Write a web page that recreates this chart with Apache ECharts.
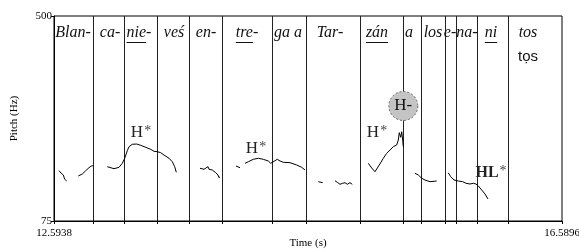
<!DOCTYPE html>
<html>
<head>
<meta charset="utf-8">
<script src="https://cdn.jsdelivr.net/npm/echarts@6/dist/echarts.min.js"></script>
<style>
html, body { margin: 0; padding: 0; background: #fff; }
#chart { width: 579px; height: 251px; }
</style>
</head>
<body>
<div id="chart"></div>
<script>
const tMin = 12.5938, tMax = 16.5896
const fMin = 75, fMax = 500

// syllable boundaries (s)
const boundaries = [12.9006, 13.1444, 13.4040, 13.6557, 13.9152, 14.3085, 14.5760,
	15.0007, 15.3389, 15.4805, 15.6693, 15.7558, 15.9210, 16.1649]

// syllable tier
const syllables = ['Blan-', 'ca-', 'nie-', 'veś', 'en-', 'tre-', 'ga a', 'Tar-', 'zán', 'a', 'los', 'e-', 'na-', 'ni', 'tos']
const syllableT = [12.7432, 13.0343, 13.2624, 13.5377, 13.7894, 14.1119, 14.4344, 14.7647,
	15.1344, 15.3861, 15.5749, 15.7086, 15.8423, 16.0311, 16.3221]
const stressedPart = ['', '', 'nie', '', '', 'tre', '', '', 'zán', '', '', '', '', 'ni', '']
const phoneticText = ['tọs']
const phoneticT = [16.3221]

// pitch track (null = unvoiced gap)
const pitchT = [
	12.6331, 12.6489, 12.6670, 12.6780, 12.6858, 12.6937, null,
	12.7849, 12.8164, 12.8431, 12.8691, 12.8872, 12.9006, null,
	13.0130, 13.0264, 13.0657, 13.1051, 13.1310, 13.1499, 13.1704, 13.1837, 13.2097, 13.2443, 13.2758,
	13.3151, 13.3544, 13.3804, 13.3937, 13.4063, 13.4331, 13.4590, 13.4984, 13.5243, 13.5432, 13.5558, null,
	13.7422, 13.7737, 13.7870, 13.8051, 13.8130, 13.8389, 13.8657, 13.8838, 13.8916, 13.8995, null,
	14.0254, 14.0568, null,
	14.0962, 14.1221, 14.1614, 14.2008, 14.2401, 14.2794, 14.2983, 14.3140, 14.3321, 14.3502, 14.3715,
	14.3974, 14.4501, 14.5028, 14.5421, 14.5681, null,
	14.6727, 14.7073, null,
	14.8041, 14.8222, 14.8434, 14.8646, 14.8827, 14.9008, 14.9221, 14.9401, null,
	15.0660, 15.0927, 15.1187, 15.1423, 15.1620, 15.1840, 15.2107, 15.2367, 15.2626, 15.2894, 15.3020,
	15.3098, 15.3208, 15.3287, 15.3366, 15.3413, null,
	15.4333, 15.4593, 15.4860, 15.5120, 15.5513, 15.6040, null,
	15.6953, 15.7141, 15.7401, 15.7739, 15.8085, 15.8187, 15.8345, 15.8659, 15.8919, 15.9131, 15.9312,
	15.9580, 15.9839, 16.0075
]
const pitchHz = [
	179.3, 174.5, 170.4, 161.5, 162.1, 157.9, null,
	168.3, 172.4, 179.3, 185.5, 189.0, 189.6, null,
	187.6, 184.3, 183.4, 186.3, 194.6, 205.0, 220.7, 229.0, 234.0, 234.6, 231.9,
	227.8, 223.6, 219.5, 215.4, 218.7, 216.6, 211.8, 205.0, 197.9, 187.6, 176.0, null,
	184.3, 182.2, 184.3, 187.6, 182.2, 180.7, 175.1, 170.4, 164.8, 166.8, null,
	189.0, 185.5, null,
	194.6, 197.9, 202.9, 205.0, 202.9, 199.4, 194.6, 197.9, 200.0, 202.9, 199.4,
	196.7, 195.9, 191.1, 186.3, 180.7, null,
	156.5, 154.4, null,
	158.5, 155.2, 151.1, 153.2, 154.4, 151.1, 154.4, 151.1, null,
	194.6, 184.9, 177.2, 187.0, 195.2, 205.0, 215.4, 222.2, 229.0, 232.6, 242.9,
	258.1, 248.5, 260.1, 242.9, 229.0, null,
	173.9, 170.4, 163.5, 160.0, 156.5, 157.9, null,
	175.1, 166.8, 160.0, 157.9, 156.5, 160.0, 153.2, 151.7, 153.2, 151.7, 147.6,
	139.3, 131.0, 120.6
]

// tonal labels
const accents = ['H*', 'H*', 'H*', 'H-', 'HL*']
const accentT = [13.2702, 14.1748, 15.1266, 15.3413, 16.0232]
const accentHz = [257.4, 224.3, 257.4, 313.4, 174.5]

const SERIF = '"Liberation Serif", "Times New Roman", serif'
const syllFont = 'italic 16px ' + SERIF

// 量文字宽度
const measureCtx = document.createElement('canvas').getContext('2d')
function textWidth(str, font) {
	measureCtx.font = font
	return measureCtx.measureText(str).width
}

// split pitch track into voiced stretches
const segments = []
let cur = []
pitchT.forEach((t, i) => {
	if (t === null) {
		if (cur.length) segments.push(cur)
		cur = []
	} else {
		cur.push([t, pitchHz[i]])
	}
})
if (cur.length) segments.push(cur)

const myChart = echarts.init(document.getElementById('chart'))

const pitchSeries = segments.map(d => ({
	type: 'line',
	data: d,
	symbol: 'none',
	showSymbol: false,
	silent: true,
	z: 3,
	lineStyle: { color: '#000', width: 1 }
}))

let option = {
	animation: false,
	grid: {
		left: 54,
		top: 16,
		width: 508,
		height: 205,
		outerBoundsMode: 'none', // 不要自动缩 grid
		containLabel: false,
		show: true,
		borderColor: '#000',
		borderWidth: 1
	},
	xAxis: {
		type: 'value',
		min: tMin,
		max: tMax,
		name: 'Time (s)',
		nameLocation: 'middle',
		nameGap: 17,
		nameMoveOverlap: false,
		nameTextStyle: { fontFamily: SERIF, fontSize: 11, color: '#000' },
		axisLine: { show: true, lineStyle: { color: '#000', width: 1 } },
		axisTick: {
			show: true,
			length: 3,
			customValues: [tMin].concat(boundaries, [tMax]),
			lineStyle: { color: '#000' }
		},
		axisLabel: {
			customValues: [tMin, tMax],
			formatter: v => v.toFixed(4),
			margin: 7,
			fontFamily: SERIF,
			fontSize: 11,
			color: '#000'
		},
		splitLine: { show: false }
	},
	yAxis: {
		type: 'value',
		min: fMin,
		max: fMax,
		name: 'Pitch (Hz)',
		nameLocation: 'middle',
		nameGap: 34,
		nameRotate: 90,
		nameMoveOverlap: false,
		nameTextStyle: { fontFamily: SERIF, fontSize: 11, color: '#000' },
		axisLine: { show: true, lineStyle: { color: '#000', width: 1 } },
		axisTick: {
			show: true,
			length: 3,
			customValues: [fMin, fMax],
			lineStyle: { color: '#000' }
		},
		axisLabel: {
			customValues: [fMin, fMax],
			margin: 2,
			verticalAlign: 'middle',
			fontFamily: SERIF,
			fontSize: 11,
			color: '#000'
		},
		splitLine: { show: false }
	},
	series: [
		// 音节边界
		{
			type: 'custom',
			silent: true,
			z: 2,
			data: boundaries.map(t => [t, fMin]),
			renderItem(params, api) {
				const top = api.coord([api.value(0), fMax])
				const bot = api.coord([api.value(0), fMin])
				const x = Math.round(top[0]) + 0.5
				return {
					type: 'line',
					shape: { x1: x, y1: top[1], x2: x, y2: bot[1] },
					style: { stroke: '#222', lineWidth: 1 }
				}
			}
		},
		// syllable text + underline for stressed part
		{
			type: 'custom',
			silent: true,
			clip: false,
			z: 4,
			data: syllableT.map(t => [t, fMax]),
			renderItem(params, api) {
				const i = params.dataIndex
				const p = api.coord([api.value(0), fMax])
				const x = p[0]
				const y = p[1] + 17
				const children = [{
					type: 'text',
					style: {
						x: x, y: y,
						text: syllables[i],
						font: syllFont,
						fill: '#111',
						textAlign: 'center',
						textVerticalAlign: 'middle'
					}
				}]
				if (stressedPart[i]) {
					const full = textWidth(syllables[i], syllFont)
					const part = textWidth(stressedPart[i], syllFont)
					const x0 = x - full / 2
					const uy = Math.round(y + 9) + 0.5
					children.push({
						type: 'line',
						shape: { x1: x0, y1: uy, x2: x0 + part, y2: uy },
						style: { stroke: '#111', lineWidth: 1 }
					})
				}
				return { type: 'group', children: children }
			}
		},
		// phonetic line under last syllable
		{
			type: 'custom',
			silent: true,
			clip: false,
			z: 4,
			data: phoneticT.map(t => [t, fMax]),
			renderItem(params, api) {
				const p = api.coord([api.value(0), fMax])
				return {
					type: 'text',
					style: {
						x: p[0], y: p[1] + 41,
						text: phoneticText[params.dataIndex],
						font: '15px "Liberation Sans", Arial, sans-serif',
						fill: '#111',
						textAlign: 'center',
						textVerticalAlign: 'middle'
					}
				}
			}
		},
		// tonal labels
		{
			type: 'custom',
			silent: true,
			clip: false,
			z: 5,
			data: accentT.map((t, i) => [t, accentHz[i]]),
			renderItem(params, api) {
				const i = params.dataIndex
				const p = api.coord([api.value(0), api.value(1)])
				const lab = accents[i]
				if (lab === 'H-') {
					return {
						type: 'group',
						children: [{
							type: 'circle',
							shape: { cx: p[0], cy: p[1], r: 14.5 },
							style: { fill: '#c4c4c4', stroke: '#666', lineWidth: 1, lineDash: [2, 2] }
						}, {
							type: 'text',
							style: {
								x: p[0], y: p[1],
								text: lab,
								font: '17px ' + SERIF,
								fill: '#111',
								textAlign: 'center',
								textVerticalAlign: 'middle'
							}
						}]
					}
				}
				const bold = lab === 'HL*'
				const main = lab.replace('*', '')
				const mainFont = (bold ? 'bold 16px ' : '17px ') + SERIF
				const w = textWidth(main, mainFont)
				return {
					type: 'group',
					children: [{
						type: 'text',
						style: {
							x: p[0] - 3, y: p[1],
							text: main,
							font: mainFont,
							fill: '#222',
							textAlign: 'center',
							textVerticalAlign: 'middle'
						}
					}, {
						type: 'text',
						style: {
							x: p[0] - 3 + w / 2 + 1, y: p[1] - 2,
							text: '*',
							font: '14px ' + SERIF,
							fill: '#444',
							textAlign: 'left',
							textVerticalAlign: 'middle'
						}
					}]
				}
			}
		}
	].concat(pitchSeries)
}
myChart.setOption(option)
</script>
</body>
</html>
